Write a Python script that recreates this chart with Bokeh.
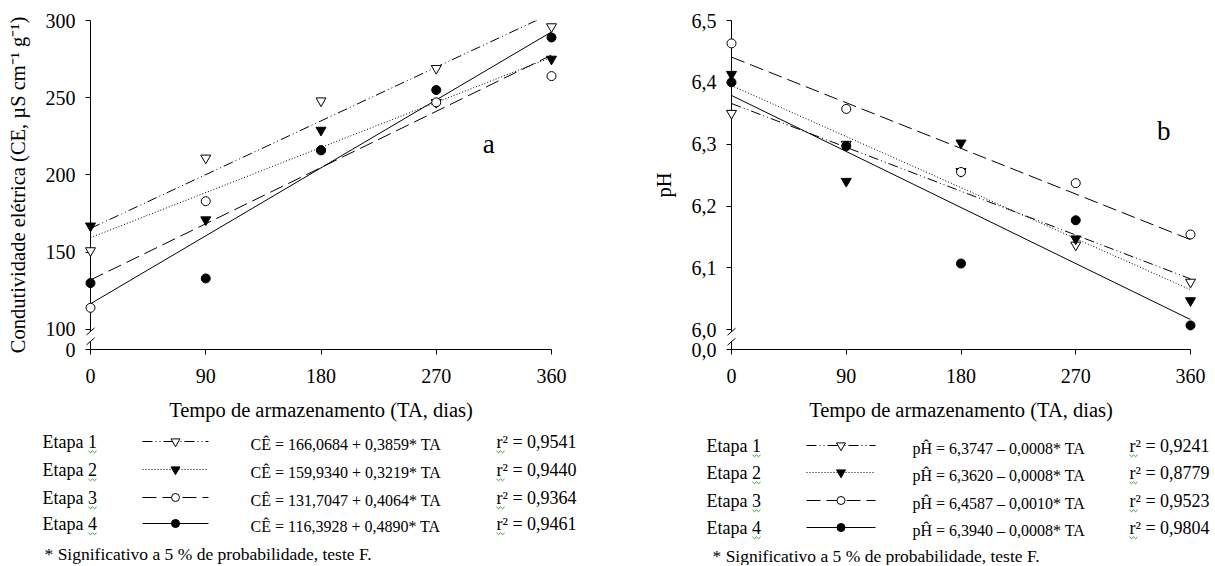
import numpy as np
from bokeh.plotting import figure
from bokeh.models import Range1d, FixedTicker
from bokeh.layouts import row, column
from bokeh.embed import file_html
from bokeh.resources import INLINE
from bokeh.core.properties import value

# ---------------- data ----------------
days = [0, 90, 180, 270, 360]
etapas = ["Etapa 1", "Etapa 2", "Etapa 3", "Etapa 4"]

ce_etapa1 = [151, 211, 248, 269, 296]
ce_etapa2 = [167, 171, 229, 247, 275]
ce_etapa3 = [114, 183, 216, 247, 264]
ce_etapa4 = [130, 133, 216, 255, 289]

ph_etapa1 = [6.350, 6.300, 6.256, 6.137, 6.077]
ph_etapa2 = [6.413, 6.240, 6.302, 6.147, 6.047]
ph_etapa3 = [6.463, 6.357, 6.255, 6.237, 6.154]
ph_etapa4 = [6.400, 6.297, 6.107, 6.177, 6.007]

ce_ticks = [100, 150, 200, 250, 300]
ce_tick_text = ["100", "150", "200", "250", "300"]
ph_ticks = [6.0, 6.1, 6.2, 6.3, 6.4, 6.5]
ph_tick_text = ["6,0", "6,1", "6,2", "6,3", "6,4", "6,5"]

ce_equations = ["CÊ = 166,0684 + 0,3859* TA", "CÊ = 159,9340 + 0,3219* TA",
                "CÊ = 131,7047 + 0,4064* TA", "CÊ = 116,3928 + 0,4890* TA"]
ce_r2 = ["r² = 0,9541", "r² = 0,9440", "r² = 0,9364", "r² = 0,9461"]
ph_equations = ["pĤ = 6,3747 – 0,0008* TA", "pĤ = 6,3620 – 0,0008* TA",
                "pĤ = 6,4587 – 0,0010* TA", "pĤ = 6,3940 – 0,0008* TA"]
ph_r2 = ["r² = 0,9241", "r² = 0,8779", "r² = 0,9523", "r² = 0,9804"]
footnote = "* Significativo a 5 % de probabilidade, teste F."

# ---------------- styles ----------------
FONT = "Liberation Serif"
STYLES = [
    dict(dash="10 3 1 3 1 3", marker="inverted_triangle", fill="white", size=10),
    dict(dash="1 2", marker="inverted_triangle", fill="black", size=10),
    dict(dash="14 6", marker="circle", fill="white", size=9),
    dict(dash="solid", marker="circle", fill="black", size=9),
]
CH = 425   # chart figure height
LH = 140   # legend figure height
TOP, BOTTOM = 20, 76
SQUIGGLE = "#3a9a3a"


def style_axis(ax):
    ax.axis_line_color = "black"
    ax.major_tick_line_color = "black"
    ax.minor_tick_line_color = None
    ax.major_tick_out = 5
    ax.major_tick_in = 0
    ax.major_label_text_font = FONT
    ax.major_label_text_font_size = "20px"
    ax.major_label_text_color = "black"
    ax.axis_label_text_font = FONT
    ax.axis_label_text_font_size = "20.5px"
    ax.axis_label_text_font_style = "normal"
    ax.axis_label_text_color = "black"


def chart(width, left, right, series, y_top, y_brk, y_bot, ticks, tick_text, zero_text,
          ylabel, ylabel_standoff, corner, corner_xy):
    p = figure(width=width, height=CH, output_backend="svg", toolbar_location=None,
               x_range=Range1d(0, 360), y_range=Range1d(y_bot, y_top),
               min_border_left=left, min_border_right=right,
               min_border_top=TOP, min_border_bottom=BOTTOM)
    p.outline_line_color = None
    p.xgrid.visible = False
    p.ygrid.visible = False
    style_axis(p.xaxis[0])
    style_axis(p.yaxis[0])
    p.xaxis.ticker = FixedTicker(ticks=days)
    p.xaxis.axis_label = "Tempo de armazenamento (TA, dias)"
    p.xaxis.major_label_standoff = 14
    p.xaxis.axis_label_standoff = 13
    p.yaxis.ticker = FixedTicker(ticks=[y_bot] + ticks)
    ov = {y_bot: zero_text}
    for t, s in zip(ticks, tick_text):
        ov[t] = s
    p.yaxis.major_label_overrides = ov
    p.yaxis.major_label_standoff = 10
    p.yaxis.axis_label = ylabel
    p.yaxis.axis_label_standoff = ylabel_standoff
    p.yaxis.axis_line_color = None

    frame_w = width - left - right
    frame_h = CH - TOP - BOTTOM
    ux = 360 / frame_w
    uy = (y_top - y_bot) / frame_h
    s1 = y_brk - 2 * uy
    s2 = y_brk - 12 * uy
    # broken y axis line
    p.segment(x0=[0, 0], y0=[y_top, s2], x1=[0, 0], y1=[s1, y_bot],
              line_color="black", line_width=1, level="overlay")
    p.segment(x0=[-4 * ux, -4 * ux], y0=[s1 - 3.5 * uy, s2 - 3.5 * uy],
              x1=[4 * ux, 4 * ux], y1=[s1 + 3.5 * uy, s2 + 3.5 * uy],
              line_color="black", line_width=1, level="overlay")

    for vals, st in zip(series, STYLES):
        m, b = np.polyfit(days, vals, 1)
        xs = np.array([days[0], days[-1]], dtype=float)
        p.line(xs, b + m * xs, line_color="black", line_width=1, line_dash=st["dash"])
    for vals, st in zip(series, STYLES):
        p.scatter(days, vals, marker=st["marker"], size=st["size"], fill_color=st["fill"],
                  line_color="black", line_width=1, level="overlay")
    p.text(x=[corner_xy[0]], y=[corner_xy[1]], text=[corner], text_font=value(FONT),
           text_font_size="27px", text_align="center", text_baseline="middle", text_color="black")
    return p


def squiggle(x0, length, y):
    xs, ys = [], []
    n = int(length // 2)
    for i in range(n + 1):
        xs.append(x0 + 2 * i)
        ys.append(y + (1.2 if i % 2 else -0.6))
    return xs, ys


def legend(width, x0, rows_y, eq_dy, x_etapa, x_s0, x_s1, x_eq, x_r2, eqs, r2s, foot_xy):
    q = figure(width=width, height=LH, output_backend="svg", toolbar_location=None,
               x_range=Range1d(x0, x0 + width), y_range=Range1d(CH + LH, CH),
               x_axis_type=None, y_axis_type=None, min_border=0)
    try:
        q.frame_align = False
    except Exception:
        pass
    q.outline_line_color = None
    q.grid.visible = False
    kw = dict(text_font=value(FONT), text_baseline="middle",
              text_align="left", text_color="black")
    q.text(x=[x_etapa] * 4, y=rows_y, text=etapas, text_font_size="18px", **kw)
    q.text(x=[x_eq] * 4, y=[y + eq_dy for y in rows_y], text=eqs, text_font_size="16px", **kw)
    q.text(x=[x_r2] * 4, y=rows_y, text=r2s, text_font_size="18px", **kw)
    q.text(x=[foot_xy[0]], y=[foot_xy[1]], text=[footnote], text_font_size="17.5px", **kw)
    xm = (x_s0 + x_s1) / 2
    for y, st in zip(rows_y, STYLES):
        q.line([x_s0, x_s1], [y, y], line_color="black", line_width=1, line_dash=st["dash"])
        q.scatter([xm], [y], marker=st["marker"], size=st["size"] - 1, fill_color=st["fill"],
                  line_color="black", line_width=1)
    sx, sy = [], []
    for y in rows_y:
        a, b = squiggle(x_etapa + 46, 8, y + 10)
        sx.append(a); sy.append(b)
        a, b = squiggle(x_r2, 8, y + 10)
        sx.append(a); sy.append(b)
    q.multi_line(sx, sy, line_color=SQUIGGLE, line_width=1)
    return q


f1 = chart(620, 90, 69, [ce_etapa1, ce_etapa2, ce_etapa3, ce_etapa4],
           300, 100, 87, ce_ticks, ce_tick_text, "0",
           "Condutividade elétrica (CE, µS cm⁻¹ g⁻¹)", 14, "a", (311, 220))
f2 = chart(593, 111, 23, [ph_etapa1, ph_etapa2, ph_etapa3, ph_etapa4],
           6.5, 6.0, 5.968, ph_ticks, ph_tick_text, "0,0",
           "pH", 14, "b", (339, 6.322))

l1 = legend(620, 0, [441, 469, 497, 523], 3, 42, 142, 208, 250, 496,
            ce_equations, ce_r2, (44, 553))
l2 = legend(593, 620, [445, 472, 500, 527], 3, 706, 806, 875, 912, 1129,
            ph_equations, ph_r2, (712, 555))

layout = column(row(f1, f2), row(l1, l2))
open("out.html", "w").write(file_html(layout, INLINE))
